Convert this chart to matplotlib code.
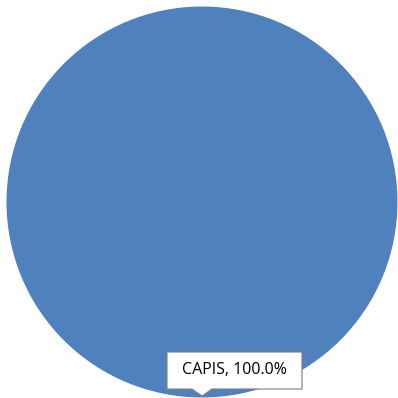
import matplotlib.pyplot as plt
from matplotlib.patches import Polygon

# data
labels = ["CAPIS"]
values = [100.0]
colors = ["#4F81BD"]

fig = plt.figure(figsize=(3.98, 3.98), dpi=100)
ax = fig.add_axes([0, 0, 1, 1])

# pie, centre in pixel-like coordinates (y up)
ax.pie(values, colors=colors, center=(202, 196), radius=195.5, startangle=90,
       counterclock=False, wedgeprops=dict(edgecolor="none"))
ax.set_xlim(0, 398)
ax.set_ylim(0, 398)
ax.set_aspect("equal")
ax.axis("off")

# data label callout
total = sum(values)
txt = "%s, %.1f%%" % (labels[0], values[0] / total * 100)
bx0, by0, bw, bh = 167, 9, 135, 37
box = Polygon([[bx0, by0], [bx0 + 25, by0], [bx0 + 35, by0 - 7], [bx0 + 45, by0],
               [bx0 + bw, by0], [bx0 + bw, by0 + bh], [bx0, by0 + bh]],
              closed=True, facecolor="white", edgecolor="#7f7f7f", linewidth=0.8, zorder=5)
ax.add_patch(box)
ax.text(bx0 + bw / 2, by0 + bh / 2, txt, ha="center", va="center", fontsize=11.5,
        family=["Open Sans", "DejaVu Sans"], color="black", zorder=6)

fig.savefig("out.png", dpi=100)
